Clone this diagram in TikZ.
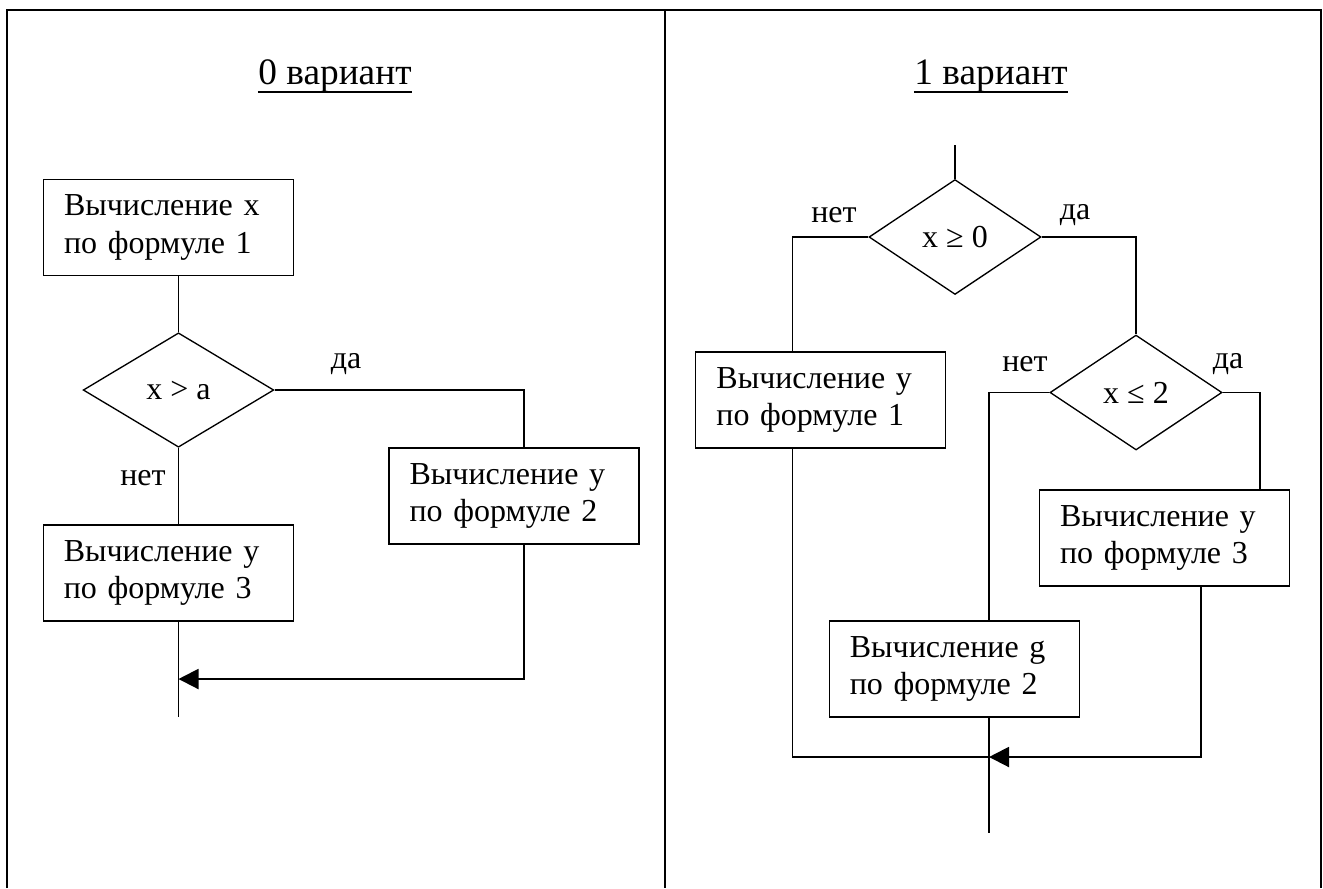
\documentclass[tikz,border=0pt]{standalone}
\usepackage{fontspec}
\setmainfont{Liberation Serif}
\usetikzlibrary{shapes.geometric,arrows.meta}
\begin{document}
\begin{tikzpicture}[x=0.375pt,y=-0.375pt,
  every node/.style={font=\fontsize{12}{14}\selectfont},
  proc/.style={draw, line width=0.5pt, rectangle, minimum width=93.75pt,
    minimum height=36pt, text width=78.3pt, inner xsep=7.72pt,
    inner ysep=0pt, align=left},
  condwide/.style={draw, line width=0.5pt, diamond, inner sep=0pt,
    minimum width=71.5pt, minimum height=42.9pt},
  cond/.style={draw, line width=0.5pt, diamond, inner sep=0pt,
    minimum width=64.5pt, minimum height=43.1pt},
  lbl/.style={inner sep=0pt},
  link/.style={line width=0.5pt},
  flow/.style={line width=0.75pt, -{Triangle[length=7.5pt,width=7.5pt]}},
  frame/.style={line width=0.75pt},
  title/.style={font=\fontsize{14}{16}\selectfont, inner sep=0pt, anchor=base}
]
\useasboundingbox (0,0) rectangle (1323,888);

% table frame with two columns
\draw[frame] (7,888) -- (7,10) -- (1321,10) -- (1321,888);
\draw[frame] (665,10) -- (665,888);

% column titles
\node[title] (t0) at (335,84) {0 вариант};
\node[title] (t1) at (991,84) {1 вариант};
\draw[link] ([yshift=-3pt]t0.base west) -- ([yshift=-3pt]t0.base east);
\draw[link] ([yshift=-3pt]t1.base west) -- ([yshift=-3pt]t1.base east);

% ---- variant 0 ----
\node[proc] (a1) at (168.4,227.4) {Вычисление x\\по формуле 1};
\node[condwide] (ad) at (178.5,390) {x > a};
\node[proc] (a2) at (514,496) {Вычисление y\\по формуле 2};
\node[proc] (a3) at (168.2,573) {Вычисление y\\по формуле 3};
\node[lbl] (ayes) at (346,364) {да};
\node[lbl] (ano) at (143,478) {нет};

\coordinate (ar) at (524,390);
\coordinate (ajoin) at (178.5,679);
\coordinate (aend) at (178.5,717);

\draw[link] (a1.south -| ad.north) -- (ad.north);
\draw[link] (ad.east) -- (ar) -- (ar |- a2.north);
\draw[link] (ad.south) -- (ad.south |- a3.north);
\draw[link] (aend |- a3.south) -- (aend);
\draw[flow] (ar |- a2.south) -- (ar |- ajoin) -- (ajoin);

% ---- variant 1 ----
\coordinate (btop) at (955,145);
\node[cond] (bd1) at (955,237) {x ≥ 0};
\node[cond] (bd2) at (1136,392.5) {x ≤ 2};
\node[proc] (b1) at (820.8,400) {Вычисление y\\по формуле 1};
\node[proc] (b3) at (1164.5,538) {Вычисление y\\по формуле 3};
\node[proc] (bg) at (954.2,669) {Вычисление g\\по формуле 2};
\node[lbl] (bno1) at (834,215) {нет};
\node[lbl] (byes1) at (1075,215) {да};
\node[lbl] (bno2) at (1025,364) {нет};
\node[lbl] (byes2) at (1228,364) {да};

\coordinate (bl) at (792.6,237);
\coordinate (bl2) at (989,392.5);
\coordinate (br2) at (1260,392.5);
\coordinate (bjoin) at (989,757);
\coordinate (bend) at (989,833);
\coordinate (b3out) at (1200.8,586);

\draw[link] (btop) -- (bd1.north);
\draw[link] (bd1.west) -- (bl) -- (bl |- b1.north);
\draw[link] (bd1.east) -| (bd2.north);
\draw[link] (bd2.west) -- (bl2) -- (bl2 |- bg.north);
\draw[link] (bd2.east) -- (br2) -- (br2 |- b3.north);
\draw[link] (bl |- b1.south) -- (bl |- bjoin) -- (bjoin);
\draw[link] (bend |- bg.south) -- (bend);
\draw[flow] (b3out |- b3.south) -- (b3out |- bjoin) -- (bjoin);
\end{tikzpicture}
\end{document}
